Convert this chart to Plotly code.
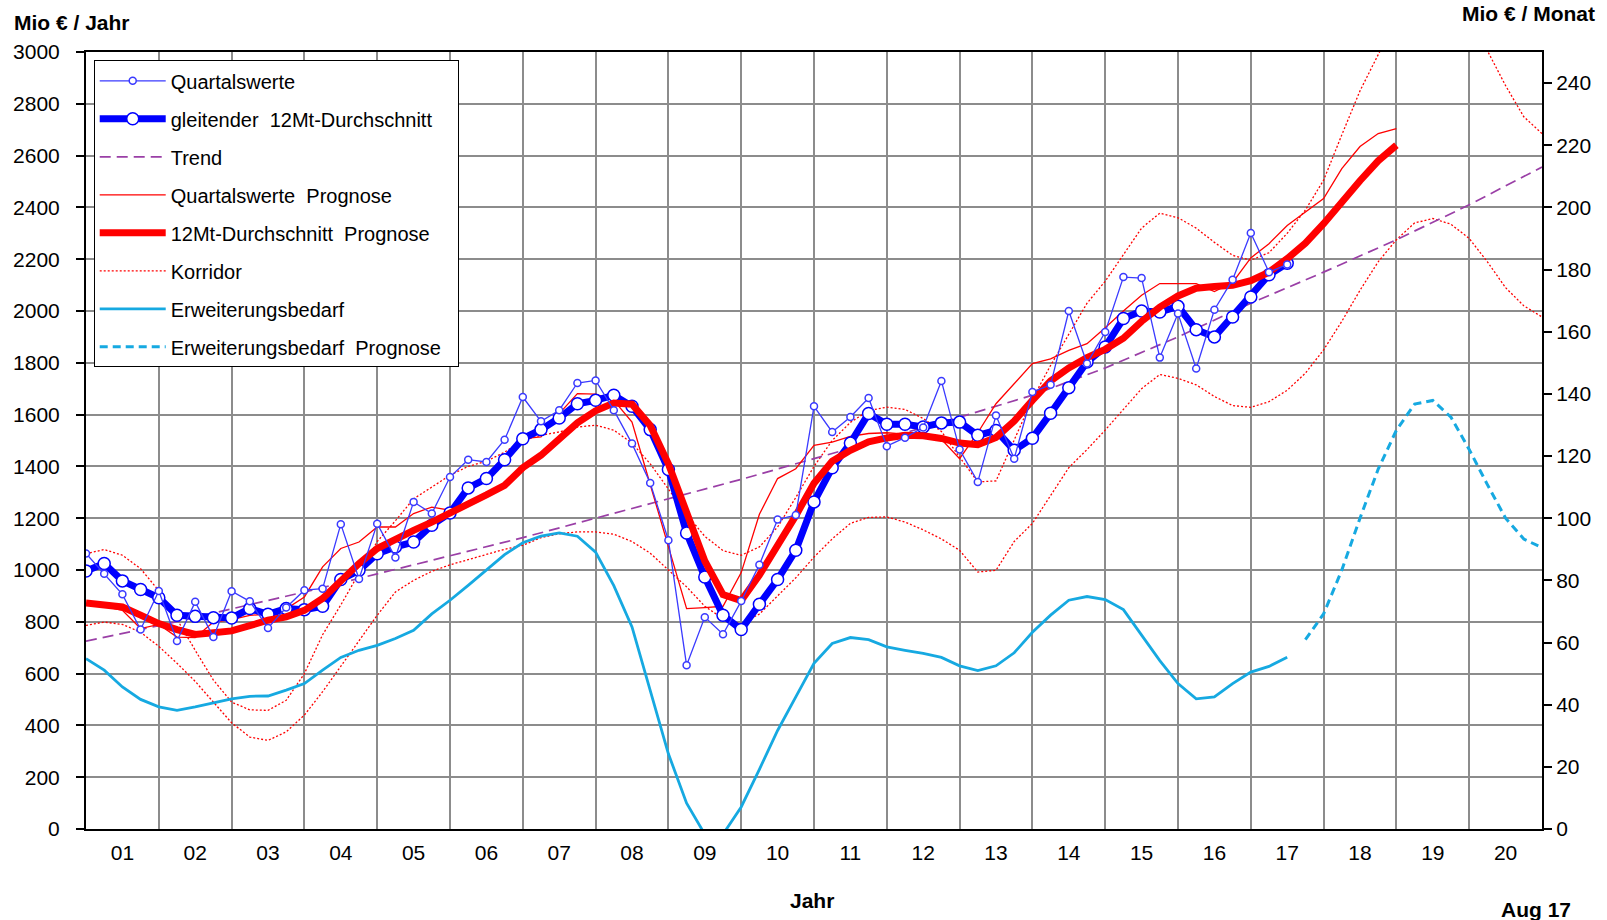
import plotly.graph_objects as go

# ---------------- data ----------------
# quarterly positions, 2001.0 ... 2021.0
quarters = [2001 + 0.25 * i for i in range(81)]
year_bounds = list(range(2001, 2022))
year_labels = ["%02d" % (y - 2000) for y in range(2001, 2021)]
label_pos = [y + 0.5 for y in range(2001, 2021)]

# Quartalswerte (Mio EUR / Jahr), 2001.0 - 2017.5
quartal = [1064, 986, 906, 770,
           919, 726, 877, 741,
           918, 879, 776, 855,
           922, 928, 1177, 965,
           1179, 1048, 1263, 1218,
           1359, 1426, 1417, 1503,
           1668, 1574, 1617, 1722,
           1732, 1617, 1488, 1336,
           1115, 632, 818, 752,
           880, 1020, 1195, 1212,
           1632, 1533, 1591, 1664,
           1478, 1511, 1550, 1730,
           1465, 1340, 1597, 1430,
           1687, 1715, 2000, 1797,
           1919, 2131, 2127, 1820,
           1990, 1778, 2005, 2121,
           2301, 2150, 2180]

# gleitender 12Mt-Durchschnitt, 2001.0 - 2017.5
gleitend = [996, 1025, 958, 925,
            893, 825, 821, 816,
            815, 851, 829, 851,
            847, 860, 963, 999,
            1063, 1089, 1108, 1173,
            1220, 1317, 1353, 1426,
            1507, 1542, 1587, 1642,
            1655, 1675, 1632, 1542,
            1388, 1143, 973, 825,
            770, 868, 963, 1076,
            1263, 1395, 1490, 1604,
            1563, 1563, 1552, 1568,
            1571, 1520, 1539, 1462,
            1509, 1605, 1704, 1803,
            1861, 1971, 2000, 1996,
            2018, 1928, 1900, 1977,
            2054, 2140, 2184]

# Trend, yearly 2001 - 2021
trend = [725, 785, 850, 915, 985, 1055, 1125, 1200, 1275, 1350, 1430,
         1510, 1590, 1675, 1780, 1900, 2030, 2150, 2275, 2410, 2556]

# Quartalswerte Prognose, 2001.0 - 2019.0
quartal_prog = [870, 860, 844, 774,
                790, 741, 739, 799,
                808, 825, 830, 850,
                896, 1012, 1083, 1108,
                1166, 1166, 1218, 1243,
                1231, 1320, 1355, 1430,
                1507, 1514, 1604, 1681,
                1679, 1655, 1571, 1330,
                1090, 851, 855, 860,
                990, 1215, 1353, 1391,
                1481, 1494, 1516, 1527,
                1530, 1525, 1533, 1505,
                1430, 1530, 1642, 1720,
                1797, 1815, 1848, 1874,
                1935, 2000, 2061, 2106,
                2106, 2106, 2075, 2110,
                2205, 2260, 2330, 2382,
                2434, 2550, 2635, 2685,
                2704]

# 12Mt-Durchschnitt Prognose, 2001.0 - 2019.0
mt12_prog = [873, 868, 857, 826,
             793, 770, 751, 758,
             765, 785, 806, 819,
             844, 890, 960, 1025,
             1083, 1121, 1153, 1185,
             1218, 1250, 1290, 1327,
             1395, 1443, 1505, 1568,
             1615, 1645, 1640, 1558,
             1410, 1215, 1035, 905,
             882, 980, 1090, 1210,
             1335, 1420, 1462, 1495,
             1510, 1520, 1518, 1508,
             1490, 1484, 1512, 1575,
             1655, 1730, 1780, 1820,
             1852, 1895, 1960, 2015,
             2058, 2088, 2095, 2099,
             2117, 2150, 2202, 2262,
             2337, 2425, 2503, 2580,
             2640]

# Korridor (upper / lower), 2001.0 - 2021.0
korridor_oben = [1063, 1079, 1057, 1005,
                 920, 810, 690, 575,
                 490, 460, 458, 497,
                 600, 750, 865, 986,
                 1110, 1190, 1275, 1320,
                 1366, 1400, 1420, 1455,
                 1500, 1520, 1533, 1552,
                 1559, 1540, 1490, 1410,
                 1310, 1215, 1130, 1075,
                 1057, 1089, 1166, 1280,
                 1400, 1500, 1570, 1615,
                 1629, 1620, 1585, 1535,
                 1436, 1340, 1344, 1500,
                 1660, 1790, 1910, 2030,
                 2115, 2215, 2320, 2378,
                 2360, 2320, 2265, 2215,
                 2196, 2225, 2300, 2390,
                 2505, 2680, 2850, 2990,
                 3120, 3200, 3230, 3200,
                 3120, 3005, 2870, 2750,
                 2685]
korridor_unten = [786, 799, 790, 760,
                  705, 640, 570, 490,
                  410, 355, 342, 375,
                  440, 530, 630, 730,
                  825, 915, 960, 995,
                  1020, 1040, 1060, 1080,
                  1095, 1125, 1140, 1147,
                  1147, 1138, 1110, 1065,
                  1000, 935, 860, 812,
                  793, 830, 900, 970,
                  1050, 1120, 1180, 1203,
                  1205, 1185, 1155, 1120,
                  1076, 992, 999, 1110,
                  1180, 1285, 1395, 1465,
                  1540, 1620, 1700, 1755,
                  1740, 1715, 1670, 1635,
                  1628, 1650, 1694, 1760,
                  1850, 1960, 2080, 2190,
                  2275, 2340, 2357, 2335,
                  2280, 2190, 2090, 2020,
                  1977]

# Erweiterungsbedarf (Mio EUR / Monat, right axis), 2001.0 - 2017.5
erweiterung = [54.8, 51.1, 45.7, 41.7,
               39.3, 38.2, 39.3, 40.6,
               41.9, 42.7, 42.8, 44.7,
               46.8, 51.1, 55.2, 57.5,
               59.1, 61.3, 63.9, 69.2,
               73.6, 78.4, 83.3, 88.3,
               92.1, 94.2, 95.3, 94.2,
               89.1, 78.3, 65.0, 45.0,
               24.2, 8.3, -1.7, -1.7,
               7.1, 19.2, 31.7, 42.5,
               53.3, 59.7, 61.6, 60.9,
               58.6, 57.5, 56.5, 55.2,
               52.5, 51.0, 52.5, 56.7,
               63.3, 68.8, 73.6, 74.8,
               73.8, 70.6, 62.5, 54.2,
               46.8, 41.9, 42.5, 46.8,
               50.5, 52.3, 55.3]

# Erweiterungsbedarf Prognose (Mio EUR / Monat), 2017.75 - 2021.0
erweiterung_prog = [60.9, 69.2, 83.3, 100.0, 115.8, 128.3, 136.7, 137.9,
                    132.5, 122.1, 110.8, 100.0, 93.3, 90.5]

# ---------------- styles ----------------
BLUE = "#0000FF"
BLUE_THIN = "#3A3AFF"
RED = "#FF0000"
PURPLE = "#9A3FA6"
CYAN = "#16A9E1"
GRID = "#8C8C8C"
FONT = "Arial, Liberation Sans, sans-serif"
NB = "\u00a0"

fig = go.Figure()

# drawing order (bottom -> top); legend order via legendrank
fig.add_trace(go.Scatter(
    x=quarters[:len(korridor_unten)], y=korridor_unten, mode="lines",
    line=dict(color=RED, width=1.3, dash="2px,2px"),
    name="Korridor", legendgroup="g6", showlegend=False, legendrank=6))
fig.add_trace(go.Scatter(
    x=quarters[:len(korridor_oben)], y=korridor_oben, mode="lines",
    line=dict(color=RED, width=1.3, dash="2px,2px"),
    name="Korridor", legendgroup="g6", legendrank=6))
fig.add_trace(go.Scatter(
    x=year_bounds, y=trend, mode="lines",
    line=dict(color=PURPLE, width=1.7, dash="11px,6px"),
    name="Trend", legendgroup="g3", legendrank=3))
fig.add_trace(go.Scatter(
    x=quarters[:len(quartal_prog)], y=quartal_prog, mode="lines",
    line=dict(color=RED, width=1.3),
    name="Quartalswerte" + NB * 2 + "Prognose", legendgroup="g4", legendrank=4))
fig.add_trace(go.Scatter(
    x=quarters[:len(gleitend)], y=gleitend, mode="lines+markers",
    line=dict(color=BLUE, width=7),
    marker=dict(symbol="circle", size=12, color="white",
                line=dict(color=BLUE, width=1.5)),
    name="gleitender" + NB * 2 + "12Mt-Durchschnitt", legendgroup="g2", legendrank=2))
fig.add_trace(go.Scatter(
    x=quarters[:len(mt12_prog)], y=mt12_prog, mode="lines",
    line=dict(color=RED, width=7),
    name="12Mt-Durchschnitt" + NB * 2 + "Prognose", legendgroup="g5", legendrank=5))
fig.add_trace(go.Scatter(
    x=quarters[:len(quartal)], y=quartal, mode="lines+markers",
    line=dict(color=BLUE_THIN, width=1.3),
    marker=dict(symbol="circle", size=7, color="white",
                line=dict(color=BLUE_THIN, width=1.5)),
    name="Quartalswerte", legendgroup="g1", legendrank=1))
fig.add_trace(go.Scatter(
    x=quarters[:len(erweiterung)], y=erweiterung, mode="lines", yaxis="y2",
    line=dict(color=CYAN, width=2.8),
    name="Erweiterungsbedarf", legendgroup="g7", legendrank=7))
fig.add_trace(go.Scatter(
    x=quarters[len(quarters) - len(erweiterung_prog):], y=erweiterung_prog,
    mode="lines", yaxis="y2",
    line=dict(color=CYAN, width=3, dash="8px,5px"),
    name="Erweiterungsbedarf" + NB * 2 + "Prognose" + NB * 2,
    legendgroup="g8", legendrank=8))

fig.update_layout(
    width=1607, height=920,
    margin=dict(l=86, r=65, t=52, b=91),
    plot_bgcolor="white", paper_bgcolor="white",
    font=dict(family=FONT, size=21, color="black"),
    showlegend=True,
    legend=dict(
        x=0.0053, y=0.9893, xanchor="left", yanchor="top",
        bgcolor="white", bordercolor="black", borderwidth=1,
        font=dict(family=FONT, size=20, color="black"),
        traceorder="grouped", tracegroupgap=9, itemwidth=66,
    ),
    xaxis=dict(
        range=[2001, 2021], tickmode="array", tickvals=label_pos, ticktext=year_labels,
        showgrid=False, zeroline=False, ticks="",
        minor=dict(tick0=2001, dtick=1, showgrid=True, gridcolor=GRID, gridwidth=2, ticks=""),
        showline=True, linecolor="black", linewidth=2, mirror=True,
        tickfont=dict(size=21), ticklabelstandoff=4,
    ),
    yaxis=dict(
        range=[0, 3000], tickmode="linear", tick0=0, dtick=200, tickformat="d",
        showgrid=True, gridcolor=GRID, gridwidth=2, zeroline=False,
        ticks="outside", ticklen=8, tickwidth=2, tickcolor="black",
        showline=True, linecolor="black", linewidth=2, mirror=True,
        tickfont=dict(size=21), ticklabelstandoff=12,
    ),
    yaxis2=dict(
        overlaying="y", side="right", range=[0, 250],
        tickmode="array", tickvals=list(range(0, 241, 20)),
        showgrid=False, zeroline=False,
        ticks="outside", ticklen=8, tickwidth=2, tickcolor="black",
        showline=True, linecolor="black", linewidth=2,
        tickfont=dict(size=21),
    ),
    annotations=[
        dict(text="<b>Mio € / Jahr</b>", xref="paper", yref="paper",
             x=-0.0508, y=1.0375, xanchor="left", yanchor="middle",
             showarrow=False, font=dict(size=21)),
        dict(text="<b>Mio € / Monat</b>", xref="paper", yref="paper",
             x=1.0378, y=1.049, xanchor="right", yanchor="middle",
             showarrow=False, font=dict(size=21)),
        dict(text="<b>Jahr</b>", xref="paper", yref="paper",
             x=0.4986, y=-0.092, xanchor="center", yanchor="middle",
             showarrow=False, font=dict(size=21)),
        dict(text="<b>Aug 17</b>", xref="paper", yref="paper",
             x=1.0215, y=-0.104, xanchor="right", yanchor="middle",
             showarrow=False, font=dict(size=21)),
    ],
)

fig.write_html("out.html", config={"displayModeBar": False},
               post_script="document.body.style.margin='0';")
